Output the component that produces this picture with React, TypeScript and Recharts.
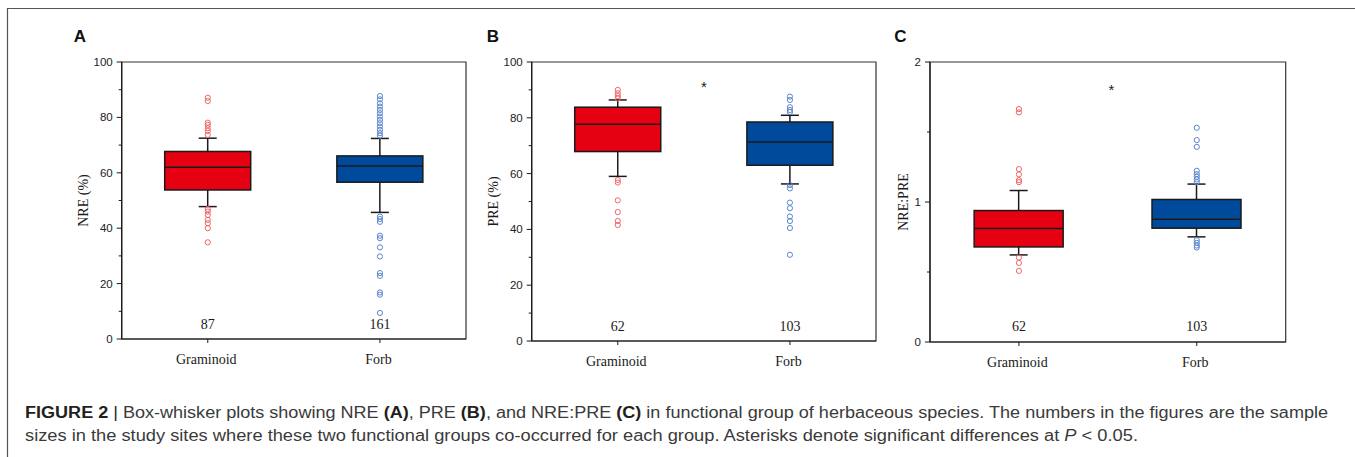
import React from 'react';
import { ComposedChart, XAxis, YAxis, Bar, Scatter, ReferenceArea } from 'recharts';

// ---------- data ----------
const categories = ['Graminoid', 'Forb'];
const categoryPos = [1, 2];

// box statistics: [lower whisker, Q1, median, Q3, upper whisker]
const nreGraminoid = [47.8, 53.8, 62.0, 67.7, 72.5];
const nreForb = [45.7, 56.6, 62.5, 66.1, 72.4];
const nreGraminoidOutliers = [87.1, 85.9, 78.1, 77.3, 76.1, 75.1, 73.7, 46.9, 46.0, 44.8, 43.0, 41.8, 40.0, 34.9];
const nreForbOutliers = [87.7, 86.5, 85.1, 83.9, 82.7, 81.5, 80.3, 79.1, 77.9, 76.7, 75.5, 74.3, 73.4, 44.2, 43.3, 42.3, 37.3, 36.4, 33.1, 29.8, 23.8, 22.8, 16.8, 16.0, 9.4];
const nreCounts = ['87', '161'];

const preGraminoid = [59.0, 67.9, 77.7, 83.8, 86.4];
const preForb = [56.3, 63.0, 71.3, 78.5, 80.9];
const preGraminoidOutliers = [90.0, 88.8, 87.8, 86.9, 57.7, 56.8, 50.4, 46.2, 43.0, 41.6];
const preForbOutliers = [87.6, 86.4, 83.8, 82.8, 82.1, 55.9, 54.7, 49.6, 47.6, 44.6, 43.0, 40.5, 30.9];
const preCounts = ['62', '103'];

const ratioGraminoid = [0.622, 0.679, 0.81, 0.939, 1.082];
const ratioForb = [0.751, 0.813, 0.877, 1.018, 1.128];
const ratioGraminoidOutliers = [1.664, 1.64, 1.235, 1.197, 1.156, 1.142, 0.603, 0.565, 0.508];
const ratioForbOutliers = [1.53, 1.442, 1.394, 1.223, 1.199, 1.18, 1.161, 1.142, 0.727, 0.708, 0.689, 0.675];
const ratioCounts = ['62', '103'];

const pctTicks = [0, 10, 20, 30, 40, 50, 60, 70, 80, 90, 100];
const pctMajor = [0, 20, 40, 60, 80, 100];
const ratioTicks = [0, 0.5, 1, 1.5, 2];
const ratioMajor = [0, 1, 2];

// ---------- style ----------
const BOX_FILLS = ['#E50012', '#004A9C'];
const OUTLIER_COLORS = ['#F06666', '#5A86CF'];
const INK = '#1a1a1a';
const SERIF = '"Liberation Serif", "Times New Roman", serif';
const SANS = '"Liberation Sans", Arial, Helvetica, sans-serif';

// ---------- helpers ----------
const boxRow = (pos: number, s: number[]) => ({ pos, low: s[0], q1: s[1], median: s[2], q3: s[3], high: s[4] });
const outlierRows = (pos: number, vals: number[]) => vals.map((v) => ({ pos, v }));

const makeBoxShape = (boxW: number) => (props: any) => {
  const { x, y, width, height, payload } = props;
  if (!payload || !isFinite(y) || !isFinite(height)) return null;
  const { low, q1, median, q3, high, pos } = payload;
  const py = (v: number) => y + ((high - v) / (high - low)) * height;
  const cx = x + width / 2;
  const cap = 9;
  const fill = BOX_FILLS[pos - 1];
  return (
    <g>
      <line x1={cx} x2={cx} y1={py(high)} y2={py(q3)} stroke={INK} strokeWidth={1.5} />
      <line x1={cx} x2={cx} y1={py(q1)} y2={py(low)} stroke={INK} strokeWidth={1.5} />
      <line x1={cx - cap} x2={cx + cap} y1={py(high)} y2={py(high)} stroke={INK} strokeWidth={1.5} />
      <line x1={cx - cap} x2={cx + cap} y1={py(low)} y2={py(low)} stroke={INK} strokeWidth={1.5} />
      <rect x={cx - boxW / 2} y={py(q3)} width={boxW} height={py(q1) - py(q3)} fill={fill} stroke={INK} strokeWidth={1.5} />
      <line x1={cx - boxW / 2} x2={cx + boxW / 2} y1={py(median)} y2={py(median)} stroke={INK} strokeWidth={1.5} />
    </g>
  );
};

const OutlierShape = (props: any) => {
  const { cx, cy, payload } = props;
  if (!isFinite(cx) || !isFinite(cy)) return null;
  return <circle cx={cx} cy={cy} r={2.6} fill="none" stroke={OUTLIER_COLORS[payload.pos - 1]} strokeWidth={1} />;
};

const TextShape = (props: any) => {
  const { cx, cy, payload } = props;
  if (!isFinite(cx) || !isFinite(cy)) return null;
  if (payload.kind === 'star') {
    return (
      <text x={cx} y={cy} dy="0.57em" textAnchor="middle" fontFamily={SANS} fontSize={15} fill={INK}>
        *
      </text>
    );
  }
  return (
    <text x={cx} y={cy} dy="0.35em" textAnchor="middle" fontFamily={SERIF} fontSize={14} fill={INK}>
      {payload.label}
    </text>
  );
};

const makeYTick = (majors: number[]) => (props: any) => {
  const { x, y, payload } = props;
  const v = payload.value;
  const isMajor = majors.includes(v);
  const ax = x + 8;
  return (
    <g>
      <line x1={ax} x2={ax - (isMajor ? 5 : 3)} y1={y} y2={y} stroke={INK} strokeWidth={1} />
      {isMajor && (
        <text x={ax - 9} y={y} dy="0.35em" textAnchor="end" fontFamily={SANS} fontSize={11.5} fill="#222">
          {v}
        </text>
      )}
    </g>
  );
};

const XTick = (props: any) => {
  const { x, y, payload } = props;
  return (
    <text x={x - 1.5} y={y + 10} dy="0.35em" textAnchor="middle" fontFamily={SERIF} fontSize={14} fill={INK}>
      {categories[payload.value - 1]}
    </text>
  );
};

const makeYLabel = (text: string, dist: number) => (lp: any) => {
  const vb = lp.viewBox || {};
  const tx = vb.x + vb.width - dist;
  const cy = vb.y + vb.height / 2;
  return (
    <text x={tx} y={cy} dy="0.35em" transform={`rotate(-90 ${tx} ${cy})`} textAnchor="middle" fontFamily={SERIF} fontSize={14} fill={INK}>
      {text}
    </text>
  );
};

type PanelProps = {
  left: number;
  top: number;
  width: number;
  height: number;
  margin: { top: number; right: number; bottom: number; left: number };
  stats: number[][];
  outliers: number[][];
  counts: string[];
  countY: number;
  star?: { pos: number; v: number };
  domain: [number, number];
  ticks: number[];
  majors: number[];
  yLabel: string;
  yLabelDist: number;
  boxW: number;
};

function BoxPanel(p: PanelProps) {
  const rows = categoryPos.map((pos, i) => boxRow(pos, p.stats[i]));
  const outs = categoryPos.flatMap((pos, i) => outlierRows(pos, p.outliers[i]));
  const texts: any[] = categoryPos.map((pos, i) => ({ pos, v: p.countY, label: p.counts[i], kind: 'count' }));
  if (p.star) texts.push({ pos: p.star.pos, v: p.star.v, label: '*', kind: 'star' });
  return (
    <div style={{ position: 'absolute', left: p.left, top: p.top }}>
      <ComposedChart width={p.width} height={p.height} data={rows} margin={p.margin}>
        <XAxis
          dataKey="pos"
          type="number"
          domain={[0.5, 2.5]}
          ticks={categoryPos}
          interval={0}
          height={30}
          tickSize={4}
          tickMargin={6}
          tickLine={{ stroke: INK }}
          axisLine={{ stroke: INK, strokeWidth: 1.2 }}
          tick={<XTick />}
        />
        <YAxis
          type="number"
          domain={p.domain}
          ticks={p.ticks}
          interval={0}
          width={50}
          tickSize={5}
          tickMargin={3}
          tickLine={false}
          axisLine={{ stroke: INK, strokeWidth: 1.2 }}
          tick={makeYTick(p.majors)}
          label={{ content: makeYLabel(p.yLabel, p.yLabelDist) }}
        />
        <ReferenceArea x1={0.5} x2={2.5} y1={p.domain[0]} y2={p.domain[1]} fill="none" fillOpacity={0} stroke="#333" strokeWidth={1.2} />
        <Bar dataKey={(d: any) => [d.low, d.high]} barSize={p.boxW} shape={makeBoxShape(p.boxW)} isAnimationActive={false} />
        <Scatter data={outs} dataKey="v" shape={OutlierShape} isAnimationActive={false} />
        <Scatter data={texts} dataKey="v" shape={TextShape} isAnimationActive={false} />
      </ComposedChart>
    </div>
  );
}

export default function App() {
  return (
    <div style={{ position: 'absolute', left: 0, top: 0, width: 1355, height: 457, background: '#fff' }}>
      <BoxPanel
        left={50}
        top={40}
        width={430}
        height={330}
        margin={{ top: 22, right: 14, bottom: 1, left: 21.7 }}
        stats={[nreGraminoid, nreForb]}
        outliers={[nreGraminoidOutliers, nreForbOutliers]}
        counts={nreCounts}
        countY={5.5}
        domain={[0, 100]}
        ticks={pctTicks}
        majors={pctMajor}
        yLabel="NRE (%)"
        yLabelDist={38.7}
        boxW={86}
      />
      <BoxPanel
        left={460}
        top={40}
        width={430}
        height={331}
        margin={{ top: 22, right: 14, bottom: 0, left: 21.7 }}
        stats={[preGraminoid, preForb]}
        outliers={[preGraminoidOutliers, preForbOutliers]}
        counts={preCounts}
        countY={5.4}
        star={{ pos: 1.5, v: 92.4 }}
        domain={[0, 100]}
        ticks={pctTicks}
        majors={pctMajor}
        yLabel="PRE (%)"
        yLabelDist={38.4}
        boxW={86}
      />
      <BoxPanel
        left={860}
        top={40}
        width={440}
        height={332}
        margin={{ top: 22, right: 14.3, bottom: 0, left: 20 }}
        stats={[ratioGraminoid, ratioForb]}
        outliers={[ratioGraminoidOutliers, ratioForbOutliers]}
        counts={ratioCounts}
        countY={0.112}
        star={{ pos: 1.52, v: 1.824 }}
        domain={[0, 2]}
        ticks={ratioTicks}
        majors={ratioMajor}
        yLabel="NRE:PRE"
        yLabelDist={26.7}
        boxW={89}
      />
      <svg width={1355} height={457} style={{ position: 'absolute', left: 0, top: 0, pointerEvents: 'none' }}>
        <line x1={7.5} x2={7.5} y1={8} y2={457} stroke="#555" strokeWidth={1.2} />
        <line x1={7.5} x2={1355} y1={8.5} y2={8.5} stroke="#555" strokeWidth={1.2} />
        <text x={80} y={42} textAnchor="middle" fontFamily={SANS} fontWeight="bold" fontSize={17} fill="#111">A</text>
        <text x={493} y={42} textAnchor="middle" fontFamily={SANS} fontWeight="bold" fontSize={17} fill="#111">B</text>
        <text x={900.5} y={42} textAnchor="middle" fontFamily={SANS} fontWeight="bold" fontSize={17} fill="#111">C</text>
        <text x={25} y={417.5} fontFamily={SANS} fontSize={16} fill="#3a3a3a" textLength={1303} lengthAdjust="spacingAndGlyphs">
          <tspan fontWeight="bold" fill="#231f20">{'FIGURE 2'}</tspan>
          <tspan fill="#231f20">{' | '}</tspan>
          {'Box-whisker plots showing NRE '}
          <tspan fontWeight="bold" fill="#231f20">{'(A)'}</tspan>
          {', PRE '}
          <tspan fontWeight="bold" fill="#231f20">{'(B)'}</tspan>
          {', and NRE:PRE '}
          <tspan fontWeight="bold" fill="#231f20">{'(C)'}</tspan>
          {' in functional group of herbaceous species. The numbers in the figures are the sample'}
        </text>
        <text x={25} y={441} fontFamily={SANS} fontSize={16} fill="#3a3a3a" textLength={1113} lengthAdjust="spacingAndGlyphs">
          {'sizes in the study sites where these two functional groups co-occurred for each group. Asterisks denote significant differences at '}
          <tspan fontStyle="italic">{'P'}</tspan>
          {' < 0.05.'}
        </text>
      </svg>
    </div>
  );
}
